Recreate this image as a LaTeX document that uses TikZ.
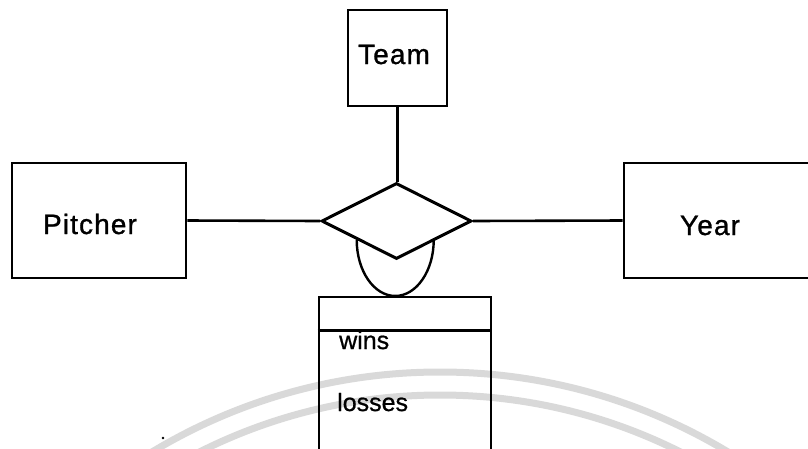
\documentclass[tikz,border=0pt]{standalone}
\usepackage{fontspec}
\setmainfont{Liberation Sans}
\newfontfamily\labelfont{Liberation Sans}[LetterSpace=4, FakeBold=1]
\newfontfamily\attrfont{Liberation Sans}[FakeBold=0.8]
\usetikzlibrary{shapes.geometric,calc}
\begin{document}
\begin{tikzpicture}[x=1pt,y=-1pt,
  entity/.style={draw, line width=2.6pt, rectangle, inner sep=0pt},
  relation/.style={draw, line width=3pt, diamond, aspect=2, inner sep=0pt,
    fill=white, minimum width=150pt, minimum height=76pt},
  link/.style={line width=2.6pt},
  title/.style={font=\labelfont\fontsize{28}{30}\selectfont, anchor=base, inner sep=0pt},
  attr/.style={font=\attrfont\fontsize{25}{27}\selectfont, anchor=base west, inner sep=0pt},
  watermark/.style={line width=7pt, draw=black!15}]
\useasboundingbox (0,0) rectangle (808,448);
\clip (0,0) rectangle (808,448);

% faint background rings
\draw[watermark] (440,930) circle (558pt);
\draw[watermark] (440,930) circle (535pt);
\fill (163,438) circle (1.3pt);

% entities
\node[entity, minimum width=174pt, minimum height=115pt] (pitcher) at (99,220.5) {};
\node[entity, minimum width=99pt, minimum height=96pt] (team) at (397.5,58) {};
\node[entity, minimum width=206pt, minimum height=115pt] (year) at (727,220.5) {};

% relationship
\node[relation] (rel) at (396.5,221) {};

% attribute box of the relationship
\node[entity, minimum width=172pt, minimum height=173pt] (stats) at (405,383.5) {};
\draw[link] ($(stats.north west)+(0,35)$) -- ($(stats.north east)+(0,35)$);

% labels
\node[title] (pitcherlabel) at (90,234) {Pitcher};
\node[title] (teamlabel) at (394,64) {Team};
\node[title] (yearlabel) at (710,235) {Year};
\node[attr] (winslabel) at (339,349) {wins};
\node[attr] (losseslabel) at (337,411) {losses};

% connectors
\draw[link] (pitcher.east) -- (rel.west);
\draw[link] (team.south) -- (team.south |- rel.north);
\draw[link] (rel.east) -- (year.west);

% aggregation arc under the diamond
\coordinate (arcstart) at ($(rel.west)!0.48!(rel.south)$);
\draw[line width=2.4pt] (arcstart) arc[start angle=180, end angle=360, x radius=38.5pt, y radius=56pt];
\end{tikzpicture}
\end{document}
